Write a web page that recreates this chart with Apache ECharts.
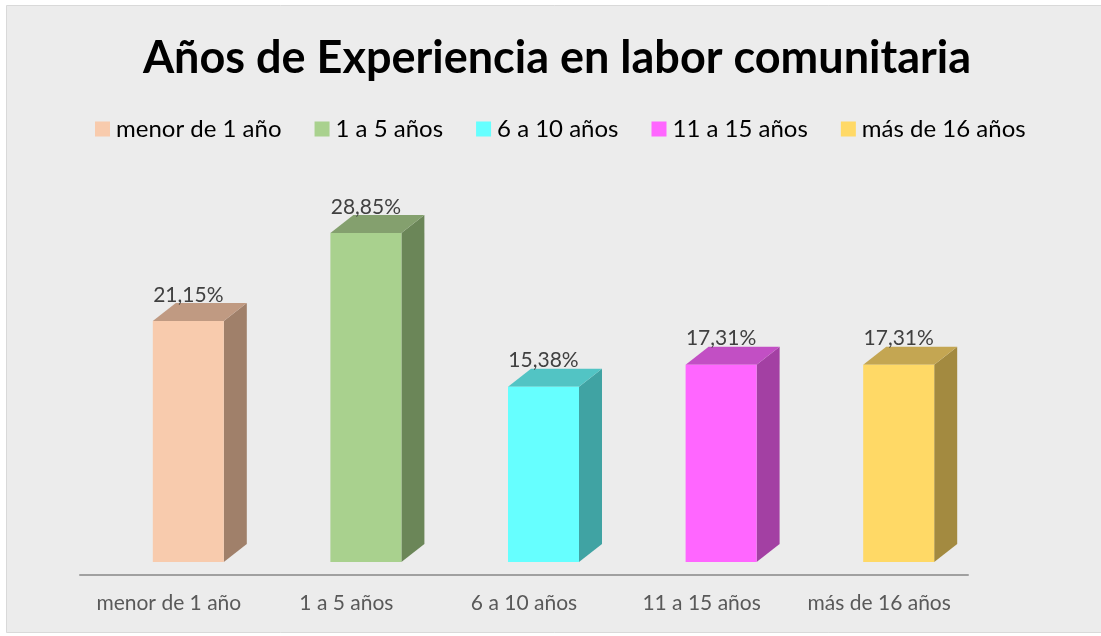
<!DOCTYPE html>
<html>
<head>
<meta charset="utf-8">
<script src="https://cdn.jsdelivr.net/npm/echarts@6/dist/echarts.min.js"></script>
<style>
  html, body { margin: 0; padding: 0; background: #fff; }
  #chart { width: 1101px; height: 636px; }
</style>
</head>
<body>
<div id="chart"></div>
<script>
// datos del gráfico
const categories = ['menor de 1 año', '1 a 5 años', '6 a 10 años', '11 a 15 años', 'más de 16 años'];
const values = [21.15, 28.85, 15.38, 17.31, 17.31];
const labels = ['21,15%', '28,85%', '15,38%', '17,31%', '17,31%'];

// colores: frente, lado, tapa
const frontColors = ['#f8cbad', '#a9d18e', '#66ffff', '#ff66ff', '#ffd966'];
const sideColors = ['#a0806a', '#6b8658', '#40a3a3', '#a340a3', '#a38a40'];
const topColors = ['#c09a82', '#84a06e', '#52c4c4', '#c24fc4', '#c4a652'];

const DX = 23;   // profundidad horizontal
const DY = 18;   // profundidad vertical
const FRONT_LEFT = -16;
const FRONT_W = 71;

function renderBar(params, api) {
  const i = api.value(0);
  const v = api.value(1);
  const top = api.coord([i, v]);
  const base = api.coord([i, 0]);
  const x0 = top[0] + FRONT_LEFT;
  const x1 = x0 + FRONT_W;
  const yt = top[1];
  const yb = base[1];
  return {
    type: 'group',
    children: [
      {
        type: 'polygon',
        shape: { points: [[x1, yt], [x1 + DX, yt - DY], [x1 + DX, yb - DY], [x1, yb]] },
        style: { fill: sideColors[i] }
      },
      {
        type: 'polygon',
        shape: { points: [[x0, yt], [x0 + DX, yt - DY], [x1 + DX, yt - DY], [x1, yt]] },
        style: { fill: topColors[i] }
      },
      {
        type: 'rect',
        shape: { x: x0, y: yt, width: FRONT_W, height: yb - yt },
        style: { fill: frontColors[i] }
      },
      {
        type: 'text',
        style: {
          x: (x0 + x1) / 2,
          y: yt - 26,
          text: labels[i],
          fill: '#404040',
          font: '21px Lato, "Noto Sans", sans-serif',
          align: 'center',
          verticalAlign: 'middle'
        }
      }
    ]
  };
}

const chart = echarts.init(document.getElementById('chart'));

chart.setOption({
  backgroundColor: '#ffffff',
  animation: false,
  graphic: [{
    type: 'rect',
    shape: { x: 6.5, y: 5.5, width: 1100, height: 627 },
    style: { fill: '#ececec', stroke: '#d9d9d9', lineWidth: 1 },
    z: -10
  }],
  title: {
    text: 'Años de Experiencia en labor comunitaria',
    left: 552,
    textAlign: 'center',
    top: 31,
    textStyle: {
      fontFamily: 'Lato, "Noto Sans", sans-serif',
      fontWeight: 'bold',
      fontSize: 45,
      color: '#000'
    }
  },
  legend: {
    top: 112,
    left: 90,
    itemWidth: 15,
    itemHeight: 15,
    itemGap: 33,
    icon: 'rect',
    textStyle: {
      fontFamily: 'Lato, "Noto Sans", sans-serif',
      fontSize: 24,
      color: '#000',
      padding: [0, 0, 0, 1]
    },
    data: categories.map((c, i) => ({ name: c, itemStyle: { color: frontColors[i] } }))
  },
  grid: {
    left: 80,
    right: 133,
    top: 220,
    bottom: 74
  },
  xAxis: {
    type: 'category',
    data: categories,
    offset: 13,
    axisLine: { onZero: false, lineStyle: { color: '#a0a0a0', width: 2 } },
    axisTick: { show: false },
    axisLabel: {
      interval: 0,
      hideOverlap: false,
      margin: 18,
      fontFamily: 'Lato, "Noto Sans", sans-serif',
      fontSize: 21,
      color: '#595959'
    }
  },
  yAxis: {
    type: 'value',
    min: 0,
    max: 30,
    show: false
  },
  series: categories.map((c, k) => ({
    name: c,
    type: 'custom',
    renderItem: renderBar,
    itemStyle: { color: frontColors[k] },
    encode: { x: 0, y: 1 },
    data: [[k, values[k]]]
  }))
});
</script>
</body>
</html>
